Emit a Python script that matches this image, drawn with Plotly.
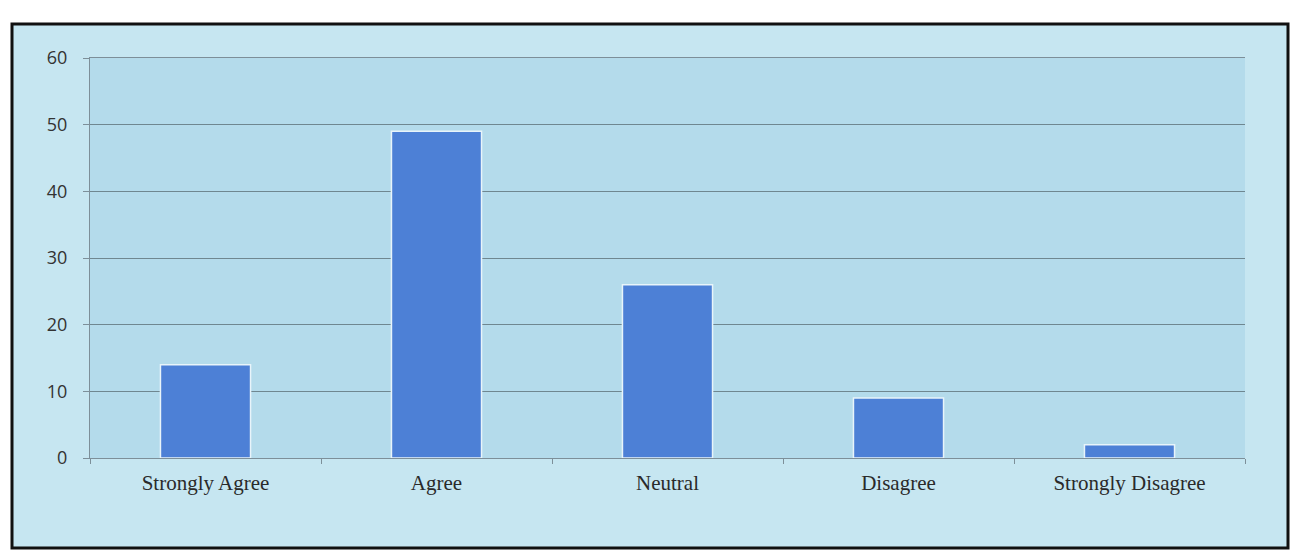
import plotly.graph_objects as go

categories = ["Strongly Agree", "Agree", "Neutral", "Disagree", "Strongly Disagree"]
values = [14, 49, 26, 9, 2]
y_ticks = [0, 10, 20, 30, 40, 50, 60]

L, R, T, B = 90, 49, 58, 99
W, H = 1294, 557
pw, ph = W - L - R, H - T - B

def px_x(x):
    return (x - L) / pw

def px_y(y):
    return (H - B - y) / ph

fig = go.Figure()
fig.add_trace(go.Bar(
    x=categories, y=values,
    marker=dict(color="#4d80d6", line=dict(color="#e8f4fa", width=1.5)),
    width=0.39,
))

fig.add_shape(type="rect", xref="paper", yref="paper",
              x0=px_x(12), x1=px_x(1288), y0=px_y(548), y1=px_y(24),
              fillcolor="#c6e6f1", line=dict(color="#111111", width=3), layer="below")
fig.add_shape(type="rect", xref="paper", yref="paper",
              x0=0, x1=1, y0=0, y1=1,
              fillcolor="#b4dbeb", line=dict(width=0), layer="below")

fig.update_layout(
    width=W, height=H,
    margin=dict(l=L, r=R, t=T, b=B),
    paper_bgcolor="white",
    plot_bgcolor="#b4dbeb",
    showlegend=False,
)
fig.update_xaxes(
    type="category",
    showline=True, linecolor="#7d8f99", linewidth=1, mirror=True,
    ticks="outside", tickson="boundaries", ticklen=5, tickcolor="#7d8f99",
    ticklabelstandoff=6,
    tickfont=dict(family="Liberation Serif", size=21, color="#2a2a2a"),
    showgrid=False,
)
fig.update_yaxes(
    range=[0, 60], tickvals=y_ticks,
    showline=True, linecolor="#7d8f99", linewidth=1,
    ticks="outside", ticklen=6, tickcolor="#7d8f99",
    ticklabelstandoff=12,
    gridcolor="#6f8790", gridwidth=1,
    tickfont=dict(family="Open Sans", size=18, color="#333333"),
    zeroline=False,
)

fig.write_html("out.html", config={"displayModeBar": False},
               post_script="document.body.style.margin='0';")
